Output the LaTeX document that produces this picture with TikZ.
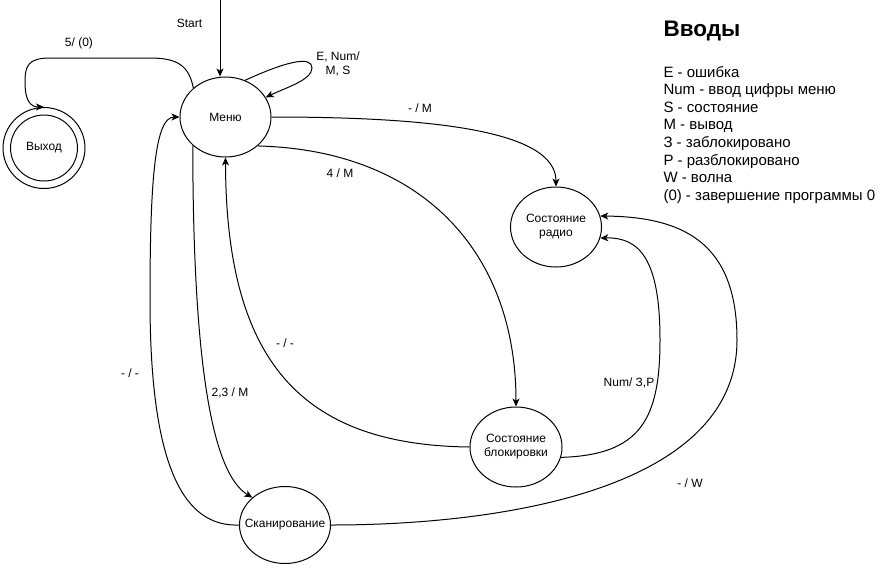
\documentclass[tikz,border=0pt]{standalone}
\usepackage{fontspec}
\setmainfont{Liberation Sans}
\usetikzlibrary{shapes.geometric,arrows.meta}
\begin{document}
\begin{tikzpicture}[x=1pt,y=-1pt,line width=1pt,
  st/.style={ellipse,draw,inner sep=0pt},
  txt/.style={font=\fontsize{12}{14}\selectfont,align=center,inner sep=0pt},
  arr/.style={-{Stealth[length=8pt,width=7pt,inset=2.2pt]}},
  leg/.style={font=\fontsize{15}{18}\selectfont,anchor=base west,inner sep=0pt}]
\useasboundingbox (0,0) rectangle (881,568);
% states
\node[st,minimum width=91pt,minimum height=80pt,label={[txt]center:Меню}] (menu) at (225.5,117) {};
\node[st,minimum width=91pt,minimum height=80pt,label={[txt]center:Состояние\\радио}] (radio) at (556,227) {};
\node[st,minimum width=92pt,minimum height=80pt,label={[txt]center:Состояние\\блокировки}] (blk) at (516,447) {};
\node[st,minimum width=91pt,minimum height=77pt,label={[txt]center:Сканирование}] (scan) at (285,525) {};
\node[st,minimum width=82pt,minimum height=81pt] (exit) at (44,148) {};
\node[st,minimum width=67pt,minimum height=66pt,label={[txt]center:Выход}] (exitin) at (exit) {};
% start
\coordinate (start) at (220,0);
\draw[arr] (start) -- (start |- menu.north);
\node[txt] (startlbl) at (189.5,23) {Start};
% self loop
\draw[arr] (menu.62) .. controls (285,62) and (312,55) .. (312,68) .. controls (312,80) and (285,88) .. (menu.26);
\node[txt] (looplbl) at (338,64) {E, Num/\\M, S};
% menu -> exit
\draw[arr] (menu.138) .. controls (189,66) and (178,58) .. (150,58) -- (50,58) .. controls (28,58) and (25,66) .. (25,82) .. controls (25,100) and (30,107) .. (exit.north);
\node[txt] (exitlbl) at (79,43) {5/ (0)};
% scan -> menu
\draw[arr] (scan.west) .. controls (185,527) and (150,470) .. (150,300) .. controls (150,180) and (155,117) .. (menu.west);
\node[txt] (scmlbl) at (130,373) {- / -};
% menu -> scan
\draw[arr] (menu.221) .. controls (193,380) and (215,475) .. (scan.140);
\node[txt] (mslbl) at (230,393) {2,3 / M};
% menu -> blk
\draw[arr] (menu.318) .. controls (420,150) and (516,250) .. (blk.north);
\node[txt] (mblbl) at (340,173) {4 / M};
% menu -> radio
\draw[arr] (menu.east) .. controls (430,117) and (556,130) .. (radio.north);
\node[txt] (mrlbl) at (420,108) {- / M};
% blk -> menu
\draw[arr] (blk.west) .. controls (300,445) and (226,360) .. (menu.south);
\node[txt] (bmlbl) at (285,343) {- / -};
% blk -> radio
\draw[arr] (blk.-13) .. controls (640,455) and (660,420) .. (660,340) .. controls (660,260) and (640,237) .. (radio.-14);
\node[txt] (brlbl) at (629,383) {Num/ З,P};
% scan -> radio
\draw[arr] (scan.east) .. controls (500,525) and (737,490) .. (737,340) .. controls (737,240) and (680,217) .. (radio.14);
\node[txt] (srlbl) at (690,483) {- / W};
% legend
\node[font=\fontsize{22.5}{26}\selectfont\bfseries,anchor=base west,inner sep=0pt] (ttl) at (663,36) {Вводы};
\foreach \t [count=\i] in {E - ошибка,Num - ввод цифры меню,S - состояние,M - вывод,З - заблокировано,P - разблокировано,W - волна,(0) - завершение программы 0}
  \node[leg] (leg\i) at (663,{77+(\i-1)*17.6}) {\t};
\end{tikzpicture}
\end{document}
